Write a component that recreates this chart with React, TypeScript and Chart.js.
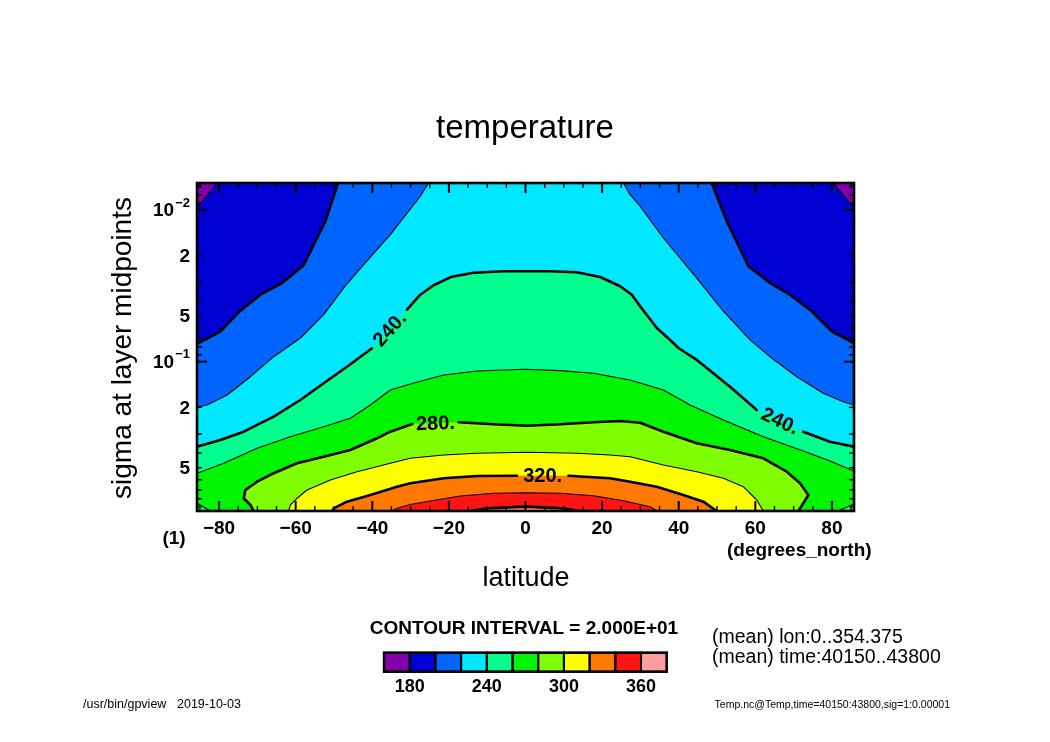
import React, { useEffect, useRef } from "react";
import { Chart, registerables } from "chart.js";

Chart.register(...registerables);

type P = [number, number]; // [latitude, sigma]

// ---- axis extents ----
const LAT_MIN = -85.76;
const LAT_MAX = 85.76;
const SIG_TOP = 0.00664;
const SIG_BOT = 0.9643;

// ---- contour levels and band colours ----
const LEVELS = [180, 200, 220, 240, 260, 280, 300, 320, 340, 360];
const THICK_LEVELS = [200, 240, 280, 320, 360];
const BAND_COLORS = [
  "#8200aa", "#0000d2", "#0064ff", "#00e8ff", "#00ff8c", "#00f500",
  "#80ff00", "#ffff00", "#ff7800", "#ff1414", "#ff9c9c",
];
const COLORBAR_LABELS = [180, 240, 300, 360];

// ---- tick labels ----
const X_TICK_LABELS = [-80, -60, -40, -20, 0, 20, 40, 60, 80];
const Y_LABEL_VALUES = [0.01, 0.02, 0.05, 0.1, 0.2, 0.5];
const Y_LABEL_MANTISSA = ["10", "2", "5", "10", "2", "5"];
const Y_LABEL_EXPONENT = ["\u22122", "", "", "\u22121", "", ""];

// ---- contour lines [lat, sigma] (segments split where a label sits) ----
const C180_W: P[] = [[-80.5, SIG_TOP], [-85.76, 0.0097]];
const C180_E: P[] = [[80.35, SIG_TOP], [85.76, 0.0097]];

const C200_W: P[] = [
  [-48.94, SIG_TOP], [-52.26, 0.01187], [-57.92, 0.02314], [-63.55, 0.03029],
  [-69.21, 0.03616], [-74.43, 0.04612], [-79.83, 0.0637], [-85.76, 0.0764],
];
const C200_E: P[] = [
  [48.63, SIG_TOP], [52.54, 0.01187], [58.18, 0.0235], [63.84, 0.0303],
  [69.06, 0.0362], [74.72, 0.0465], [79.94, 0.063], [85.76, 0.0753],
];

const C220_W: P[] = [
  [-25.31, SIG_TOP], [-27.47, 0.00812], [-35.3, 0.01455], [-42.26, 0.02294],
  [-47.48, 0.03267], [-52.7, 0.049], [-58.78, 0.0698], [-65.74, 0.0927],
  [-71.82, 0.1256], [-77.9, 0.1658], [-83.12, 0.1929], [-85.76, 0.1988],
];
const C220_E: P[] = [
  [25.57, SIG_TOP], [27.32, 0.00793], [29.92, 0.00945], [36.0, 0.0153],
  [44.72, 0.0281], [51.66, 0.0465], [58.62, 0.0719], [63.84, 0.0927],
  [70.81, 0.1256], [77.75, 0.1616], [82.96, 0.1836], [85.76, 0.1929],
];

const C240: P[][] = [
  [
    [-85.76, 0.3634], [-79.65, 0.3282], [-73.57, 0.2893], [-65.75, 0.2305],
    [-58.78, 0.1789], [-52.7, 0.1388], [-46.6, 0.1079], [-40.07, 0.0816],
  ],
  [
    [-30.94, 0.0454], [-27.47, 0.0362], [-24.0, 0.03136], [-19.2, 0.02752],
    [-13.57, 0.0259], [-5.74, 0.02536], [6.44, 0.02536], [13.41, 0.02574],
    [19.49, 0.02765], [24.71, 0.03184], [27.76, 0.0362], [29.92, 0.04313],
    [34.28, 0.05995], [37.75, 0.0719], [39.92, 0.0812], [44.72, 0.0974],
    [53.4, 0.1462], [60.37, 0.2082],
  ],
  [[72.53, 0.2893], [79.49, 0.3369], [85.76, 0.3634]],
];

const C260: P[] = [
  [-85.76, 0.544], [-78.79, 0.4674], [-70.08, 0.3724], [-61.39, 0.3122],
  [-52.7, 0.2682], [-45.73, 0.2361], [-40.52, 0.1929], [-35.3, 0.1537],
  [-30.08, 0.1403], [-21.39, 0.1224], [-12.68, 0.1151], [-0.08, 0.1122],
  [9.05, 0.1146], [17.74, 0.1193], [27.32, 0.132], [36.0, 0.1537],
  [42.97, 0.1929], [51.66, 0.2423], [62.09, 0.3122], [72.53, 0.388],
  [79.49, 0.4515], [85.76, 0.5255],
];
const C260_SW: P[] = [[-85.76, 0.858], [-82.26, SIG_BOT]];
const C260_SE: P[] = [[85.76, 0.867], [81.58, SIG_BOT]];

const C280: P[][] = [
  [
    [-70.96, SIG_BOT], [-71.82, 0.88], [-73.57, 0.795], [-73.13, 0.701],
    [-70.08, 0.618], [-65.75, 0.544], [-59.64, 0.4674], [-52.7, 0.4229],
    [-45.73, 0.3821], [-38.77, 0.3199], [-35.3, 0.2893], [-29.56, 0.2574],
  ],
  [
    [-17.48, 0.2508], [-8.35, 0.2586], [0.37, 0.2642], [9.05, 0.2586],
    [17.74, 0.2508], [24.71, 0.2459], [29.92, 0.2524], [36.0, 0.2893],
    [44.72, 0.345], [53.4, 0.3821], [62.09, 0.4334], [68.2, 0.531],
    [71.67, 0.6332], [73.83, 0.7562], [72.53, 0.858], [71.22, SIG_BOT],
  ],
];

const C300: P[] = [
  [-61.83, SIG_BOT], [-61.39, 0.88], [-59.64, 0.795], [-57.03, 0.701],
  [-50.95, 0.6026], [-43.99, 0.531], [-35.3, 0.4674], [-30.08, 0.4334],
  [-21.39, 0.4122], [-12.68, 0.4017], [0.37, 0.3956], [13.41, 0.4017],
  [22.1, 0.4122], [27.32, 0.4229], [36.0, 0.4797], [44.72, 0.531],
  [51.66, 0.587], [56.87, 0.6668], [60.37, 0.816], [62.09, SIG_BOT],
];

const C320: P[][] = [
  [
    [-50.51, SIG_BOT], [-50.09, 0.926], [-46.6, 0.837], [-40.52, 0.7562],
    [-33.55, 0.6668], [-30.08, 0.6332], [-21.39, 0.587], [-12.68, 0.567],
    [-2.24, 0.5643],
  ],
  [
    [11.22, 0.5643], [22.1, 0.587], [27.32, 0.618], [34.28, 0.6668],
    [41.22, 0.7562], [46.44, 0.837], [49.93, SIG_BOT],
  ],
];

const C340: P[] = [
  [-34.86, SIG_BOT], [-33.55, 0.926], [-30.08, 0.8737], [-24.86, 0.8285],
  [-17.04, 0.768], [-8.35, 0.737], [-0.08, 0.7306], [9.05, 0.737],
  [17.74, 0.7643], [25.57, 0.8246], [29.92, 0.8737], [32.53, 0.903],
  [34.28, SIG_BOT],
];

const C360: P[] = [
  [-14.43, SIG_BOT], [-10.07, 0.926], [-0.08, 0.903], [9.91, 0.926], [14.27, SIG_BOT],
];

// ---- tables built from the arrays above ----
const CONTOUR_TABLE: { level: number; segs: P[][] }[] = [
  { level: 180, segs: [C180_W] },
  { level: 180, segs: [C180_E] },
  { level: 200, segs: [C200_W] },
  { level: 200, segs: [C200_E] },
  { level: 220, segs: [C220_W] },
  { level: 220, segs: [C220_E] },
  { level: 240, segs: C240 },
  { level: 260, segs: [C260] },
  { level: 260, segs: [C260_SW] },
  { level: 260, segs: [C260_SE] },
  { level: 280, segs: C280 },
  { level: 300, segs: [C300] },
  { level: 320, segs: C320 },
  { level: 340, segs: [C340] },
  { level: 360, segs: [C360] },
];

const rev = (a: P[]) => [...a].reverse();
const BL: P = [LAT_MIN, SIG_BOT];
const BR: P = [LAT_MAX, SIG_BOT];

// regions where T >= level, painted in increasing order
const REGIONS: { level: number; poly: P[] }[] = [
  { level: 180, poly: [...C180_W, BL, BR, ...rev(C180_E)] },
  { level: 200, poly: [...C200_W, BL, BR, ...rev(C200_E)] },
  { level: 220, poly: [...C220_W, BL, BR, ...rev(C220_E)] },
  { level: 240, poly: [...C240.flat(), BR, BL] },
  { level: 260, poly: [...C260, ...C260_SE, ...rev(C260_SW)] },
  { level: 280, poly: C280.flat() },
  { level: 300, poly: C300 },
  { level: 320, poly: C320.flat() },
  { level: 340, poly: C340 },
  { level: 360, poly: C360 },
];

const toXY = (pts: P[]) => pts.map(([x, y]) => ({ x, y }));

const FONT = '"Liberation Sans", Arial, sans-serif';

const decorPlugin = {
  id: "decor",
  beforeDatasetsDraw(chart: any) {
    const { ctx, chartArea: a } = chart;
    ctx.save();
    ctx.fillStyle = BAND_COLORS[0];
    ctx.fillRect(a.left, a.top, a.right - a.left, a.bottom - a.top);
    ctx.restore();
  },
  afterDraw(chart: any) {
    const { ctx, chartArea: a } = chart;
    const xs = chart.scales.x;
    const ys = chart.scales.y;
    const X = (v: number) => xs.getPixelForValue(v);
    const Y = (v: number) => ys.getPixelForValue(v);
    const seg = (x1: number, y1: number, x2: number, y2: number) => {
      ctx.beginPath();
      ctx.moveTo(x1, y1);
      ctx.lineTo(x2, y2);
      ctx.stroke();
    };
    ctx.save();
    ctx.strokeStyle = "#000";
    ctx.fillStyle = "#000";

    // contour labels in the gaps of split contours
    ctx.font = `bold 20px ${FONT}`;
    ctx.textAlign = "center";
    ctx.textBaseline = "middle";
    CONTOUR_TABLE.forEach((c) => {
      for (let k = 0; k < c.segs.length - 1; k++) {
        const p1 = c.segs[k][c.segs[k].length - 1];
        const p2 = c.segs[k + 1][0];
        const x1 = X(p1[0]), y1 = Y(p1[1]), x2 = X(p2[0]), y2 = Y(p2[1]);
        const ang = Math.atan2(y2 - y1, x2 - x1);
        ctx.save();
        ctx.translate((x1 + x2) / 2, (y1 + y2) / 2);
        ctx.rotate(ang);
        ctx.fillText(`${c.level}.`, 0, 1);
        ctx.restore();
      }
    });

    // ticks (inward, all four sides)
    ctx.lineCap = "butt";
    for (let lat = -85; lat <= 85; lat += 5) {
      const px = X(lat);
      const major = lat % 20 === 0;
      const len = major ? 10 : 5;
      ctx.lineWidth = major ? 2 : 1.4;
      seg(px, a.top, px, a.top + len);
      seg(px, a.bottom, px, a.bottom - len);
    }
    [0.001, 0.01, 0.1].forEach((d) => {
      for (let m = 1; m <= 9; m++) {
        const v = m * d;
        if (v < SIG_TOP || v > SIG_BOT) continue;
        const py = Y(v);
        const major = m === 1;
        const len = major ? 10 : 5;
        ctx.lineWidth = major ? 2 : 1.4;
        seg(a.left, py, a.left + len, py);
        seg(a.right, py, a.right - len, py);
      }
    });

    // frame
    ctx.lineWidth = 2.6;
    ctx.strokeRect(a.left, a.top, a.right - a.left, a.bottom - a.top);

    // x tick labels
    ctx.font = `bold 19px ${FONT}`;
    ctx.textAlign = "center";
    ctx.textBaseline = "middle";
    X_TICK_LABELS.forEach((v) => {
      const t = v < 0 ? "\u2212" + Math.abs(v) : String(v);
      ctx.fillText(t, X(v), a.bottom + 18);
    });

    // y tick labels
    Y_LABEL_VALUES.forEach((v, i) => {
      const py = Y(v);
      const right = a.left - 7;
      ctx.textAlign = "right";
      let r = right;
      if (Y_LABEL_EXPONENT[i]) {
        ctx.font = `bold 13px ${FONT}`;
        ctx.fillText(Y_LABEL_EXPONENT[i], r, py - 7);
        r -= ctx.measureText(Y_LABEL_EXPONENT[i]).width + 1;
      }
      ctx.font = `bold 19px ${FONT}`;
      ctx.fillText(Y_LABEL_MANTISSA[i], r, py + 1);
    });

    // units
    ctx.font = `bold 19px ${FONT}`;
    ctx.textAlign = "center";
    ctx.fillText("(1)", 174, 539);
    ctx.textAlign = "left";
    ctx.fillText("(degrees_north)", 727, 551);

    // titles
    ctx.textAlign = "center";
    ctx.font = `33px ${FONT}`;
    ctx.fillText("temperature", 525, 129);
    ctx.font = `27px ${FONT}`;
    ctx.fillText("latitude", 526, 579);
    ctx.save();
    ctx.translate(123, 348);
    ctx.rotate(-Math.PI / 2);
    ctx.font = `28px ${FONT}`;
    ctx.fillText("sigma at layer midpoints", 0, 0);
    ctx.restore();

    // contour interval + colour bar
    ctx.font = `bold 19px ${FONT}`;
    ctx.fillText("CONTOUR INTERVAL = 2.000E+01", 524, 629);
    const cbX = 384, cbW = 282.7, cbY = 652.7, cbH = 19;
    const bw = cbW / BAND_COLORS.length;
    BAND_COLORS.forEach((c, i) => {
      ctx.fillStyle = c;
      ctx.fillRect(cbX + i * bw, cbY, bw, cbH);
    });
    ctx.lineWidth = 2;
    BAND_COLORS.forEach((_, i) => {
      ctx.strokeRect(cbX + i * bw, cbY, bw, cbH);
    });
    ctx.lineWidth = 2.4;
    ctx.strokeRect(cbX, cbY, cbW, cbH);
    ctx.fillStyle = "#000";
    ctx.font = `bold 18px ${FONT}`;
    COLORBAR_LABELS.forEach((v) => {
      const idx = LEVELS.indexOf(v) + 1;
      ctx.fillText(String(v), cbX + idx * bw, 687);
    });

    // annotations
    ctx.textAlign = "left";
    ctx.font = `19.5px ${FONT}`;
    ctx.fillText("(mean) lon:0..354.375", 712, 638);
    ctx.fillText("(mean) time:40150..43800", 712, 658);
    ctx.font = `12.5px ${FONT}`;
    ctx.fillText("/usr/bin/gpview", 83, 705);
    ctx.fillText("2019-10-03", 177, 705);
    ctx.textAlign = "right";
    ctx.font = `10.5px ${FONT}`;
    ctx.fillText("Temp.nc@Temp,time=40150:43800,sig=1:0.00001", 950, 705);

    ctx.restore();
  },
};

export default function App() {
  const ref = useRef<HTMLCanvasElement>(null);

  useEffect(() => {
    if (!ref.current) return;
    const fillSets = REGIONS.map((r, i) => ({
      data: toXY(r.poly),
      showLine: true,
      fill: "shape",
      backgroundColor: BAND_COLORS[LEVELS.indexOf(r.level) + 1],
      borderColor: "rgba(0,0,0,0)",
      borderWidth: 0,
      pointRadius: 0,
      tension: 0,
      order: 100 - i,
    }));
    const lineSets: any[] = [];
    CONTOUR_TABLE.forEach((c) => {
      c.segs.forEach((s) => {
        lineSets.push({
          data: toXY(s),
          showLine: true,
          fill: false,
          borderColor: "#000",
          borderWidth: THICK_LEVELS.includes(c.level) ? 2.6 : 1.1,
          borderJoinStyle: "round",
          borderCapStyle: "round",
          pointRadius: 0,
          tension: 0,
          order: 0,
        });
      });
    });

    const chart = new Chart(ref.current, {
      type: "scatter",
      data: { datasets: [...fillSets, ...lineSets] as any },
      options: {
        responsive: false,
        maintainAspectRatio: false,
        animation: false,
        events: [],
        layout: { padding: { left: 197, top: 183, right: 196, bottom: 231 } },
        scales: {
          x: { type: "linear", min: LAT_MIN, max: LAT_MAX, display: false, bounds: "data" },
          y: {
            type: "logarithmic",
            min: SIG_TOP,
            max: SIG_BOT,
            reverse: true,
            display: false,
            bounds: "data",
          },
        },
        plugins: {
          legend: { display: false },
          tooltip: { enabled: false },
          title: { display: false },
        },
      } as any,
      plugins: [decorPlugin],
    });
    return () => chart.destroy();
  }, []);

  return (
    <div style={{ position: "absolute", left: 0, top: 0, width: 1050, height: 742, background: "#fff" }}>
      <canvas ref={ref} width={1050} height={742} style={{ display: "block" }} />
    </div>
  );
}
